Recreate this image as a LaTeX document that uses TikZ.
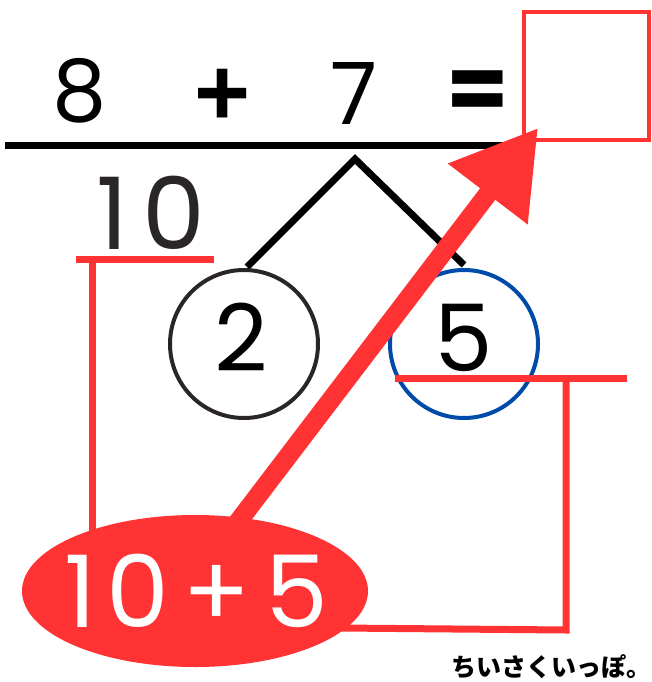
\documentclass[tikz,border=0pt]{standalone}
\usepackage{fontspec}
\setmainfont{Poppins}
\newfontfamily\jpfont{Noto Sans CJK JP}
\newfontfamily\symfont{Liberation Sans}
\usetikzlibrary{arrows.meta,shapes.geometric}
\definecolor{myred}{RGB}{255,51,51}
\definecolor{myblue}{RGB}{0,75,170}
\definecolor{ink}{RGB}{43,38,38}
\tikzset{
  bigdigit/.style={inner sep=0pt, font=\fontsize{86}{86}\selectfont},
  bigsym/.style={inner sep=0pt, font=\bfseries\fontsize{90}{90}\selectfont},
  mid/.style={inner sep=0pt, text=ink, font=\fontsize{100}{100}\selectfont},
  ring/.style={circle, line width=4pt, minimum size=148pt, inner sep=0pt},
  redline/.style={draw=myred, line width=7pt},
  blackline/.style={draw=black, line width=7pt},
}
\begin{document}
\begin{tikzpicture}[x=1pt,y=-1pt]
\useasboundingbox (0,0) rectangle (651,682);
% equation
\node[bigdigit] (eight) at (80,91) {8};
\node[inner sep=0pt, font=\symfont\bfseries\fontsize{96}{96}\selectfont] (plus) at (223,97) {+};
\node[bigdigit] (seven) at (354,93) {7};
\node[bigsym] (eq) at (478,96) {=};
\node[draw=myred, line width=4pt, minimum width=125pt, minimum height=128pt, inner sep=0pt] (ans) at (586,76) {};
\coordinate (barL) at (5,145);
\coordinate (barR) at (515,145);
\draw[blackline] (barL) -- (barR);
% tree
\coordinate (apex) at (355,159);
\node[ring, draw=ink] (c2) at (244,344) {};
\node[ring, draw=myblue] (c5) at (464,344) {};
\node[inner sep=0pt, font=\fontsize{93}{93}\selectfont] (two) at (241,337) {2};
\node[inner sep=0pt, font=\fontsize{93}{93}\selectfont] (five) at (464,338) {5};
\draw[line width=7pt, miter limit=10] (247,267) -- (apex) -- (464,265);
% ten
\node[mid] (ten) at (151,213) {1\hspace{14pt}0};
% red brackets
\coordinate (tL) at (76,259);
\coordinate (tR) at (214,259);
\coordinate (tV) at (92,259);
\coordinate (tB) at (92,545);
\draw[redline] (tL) -- (tR);
\draw[redline] (tV) -- (tB);
\coordinate (fL) at (395,378);
\coordinate (fR) at (627,378);
\coordinate (fV) at (566,378);
\coordinate (fC) at (566,630);
\coordinate (fE) at (340,628);
\draw[redline] (fL) -- (fR);
\draw[redline] (fV) -- (fC) -- (fE);
% arrow
\coordinate (aS) at (228,535);
\coordinate (aT) at (538,128);
\draw[myred, line width=19pt, -{Triangle[length=83pt,width=95pt]}] (aS) -- (aT);
% ellipse
\node[ellipse, fill=myred, minimum width=346pt, minimum height=152pt, inner sep=0pt] (blob) at (195,591) {};
\node[inner sep=0pt, text=white, font=\fontsize{100}{100}\selectfont] (sum) at (196,591) {1\hspace{10pt}0\hspace{14pt}+\hspace{14pt}5};
% brand
\node[anchor=base west, inner sep=0pt, font=\jpfont\bfseries\fontsize{25}{25}\selectfont] (brand) at (451,676) {ちいさくいっぽ。};
\end{tikzpicture}
\end{document}
